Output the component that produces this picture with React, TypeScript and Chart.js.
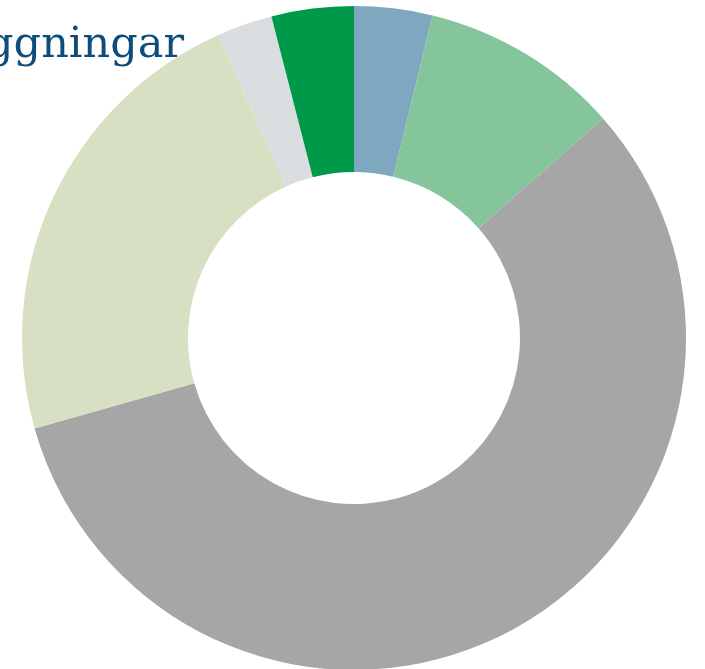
import React, { useEffect, useRef } from "react";
import { Chart, registerables } from "chart.js";

Chart.register(...registerables);

const titleText = "ggningar";
const categories = ["Kategori A", "Kategori B", "Kategori C", "Kategori D", "Kategori E", "Kategori F"];
const values = [3.8, 9.7, 57.1, 22.7, 2.7, 4.0];
const colors = ["#7FA7BF", "#85C59B", "#A6A6A6", "#D7E0C3", "#D9DDE0", "#00994A"];

export default function App() {
  const canvasRef = useRef<HTMLCanvasElement | null>(null);

  useEffect(() => {
    if (!canvasRef.current) return;
    const chart = new Chart(canvasRef.current, {
      type: "doughnut",
      data: {
        labels: categories,
        datasets: [
          {
            data: values,
            backgroundColor: colors,
            borderWidth: 0,
          },
        ],
      },
      options: {
        animation: false,
        responsive: false,
        cutout: "50%",
        layout: { padding: 0 },
        plugins: {
          legend: { display: false },
          title: { display: false },
          tooltip: { enabled: false },
        },
      },
    });
    return () => chart.destroy();
  }, []);

  return (
    <div
      style={{
        position: "fixed",
        left: 0,
        top: 0,
        width: 705,
        height: 669,
        overflow: "hidden",
        background: "#ffffff",
      }}
    >
      <canvas
        ref={canvasRef}
        width={664}
        height={664}
        style={{ position: "absolute", left: 22, top: 6, width: 664, height: 664 }}
      />
      <div
        style={{
          position: "absolute",
          right: 705 - 184,
          top: 21,
          fontFamily: "'DejaVu Serif', serif",
          fontSize: 43,
          lineHeight: "43px",
          color: "#0E4D7A",
          whiteSpace: "nowrap",
          zIndex: 2,
        }}
      >
        {titleText}
      </div>
    </div>
  );
}
